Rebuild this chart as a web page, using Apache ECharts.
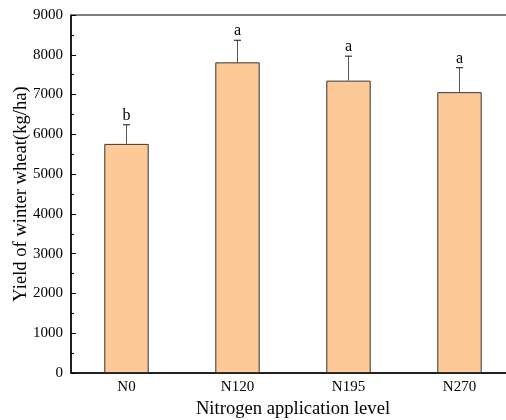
<!DOCTYPE html>
<html>
<head>
<meta charset="utf-8">
<script src="https://cdn.jsdelivr.net/npm/echarts@6/dist/echarts.min.js"></script>
<style>html,body{margin:0;padding:0;background:#fff;}#c{width:506px;height:420px;}</style>
</head>
<body>
<div id="c"></div>
<script>
var categories = ['N0', 'N120', 'N195', 'N270'];
var yieldMean = [5760, 7810, 7350, 7060];
var yieldErr = [480, 555, 615, 615];
var letters = ['b', 'a', 'a', 'a'];
var yTicks = { min: 0, max: 9000, interval: 1000 };

var FONT = '"Liberation Serif", "Times New Roman", serif';
var chart = echarts.init(document.getElementById('c'));

var errData = categories.map(function (c, i) { return [i, yieldMean[i], yieldErr[i]]; });

chart.setOption({
  animation: false,
  backgroundColor: '#fff',
  grid: { left: 71, top: 15, width: 444, height: 358, outerBoundsMode: 'none', containLabel: false, show: true, borderColor: '#000', borderWidth: 1, backgroundColor: 'transparent' },
  xAxis: [{
    type: 'category',
    data: categories,
    position: 'bottom',
    name: 'Nitrogen application level',
    nameLocation: 'middle',
    nameGap: 23,
    nameTextStyle: { fontFamily: FONT, fontSize: 18.6, color: '#000' },
    axisLine: { lineStyle: { color: '#000', width: 1.5 } },
    axisTick: { inside: true, alignWithLabel: true, length: 5, lineStyle: { color: '#000', width: 1 } },
    axisLabel: { fontFamily: FONT, fontSize: 15, color: '#000', margin: 7 },
    splitLine: { show: false }
  }, {
    type: 'category',
    data: categories,
    position: 'bottom',
    gridIndex: 0,
    axisLine: { show: false },
    axisTick: { inside: true, alignWithLabel: false, length: 3, lineStyle: { color: '#000', width: 1 } },
    axisLabel: { show: false },
    splitLine: { show: false }
  }],
  yAxis: {
    type: 'value',
    min: yTicks.min,
    max: yTicks.max,
    interval: yTicks.interval,
    name: 'Yield of winter wheat(kg/ha)',
    nameLocation: 'middle',
    nameGap: 40,
    nameMoveOverlap: false,
    nameTextStyle: { fontFamily: FONT, fontSize: 18.6, color: '#000' },
    axisLine: { show: true, lineStyle: { color: '#000', width: 1.5 } },
    axisTick: { show: true, inside: true, length: 5, lineStyle: { color: '#000' } },
    minorTick: { show: true, splitNumber: 2, length: 3, lineStyle: { color: '#000' } },
    axisLabel: { fontFamily: FONT, fontSize: 15, color: '#000', margin: 8, formatter: function (v) { return String(v); } },
    splitLine: { show: false }
  },
  series: [{
    type: 'bar',
    data: yieldMean,
    barWidth: '40%',
    itemStyle: { color: '#FCC997', borderColor: '#333', borderWidth: 1 },
    z: 2
  }, {
    type: 'custom',
    data: errData,
    z: 3,
    renderItem: function (params, api) {
      var i = api.value(0);
      var m = api.value(1);
      var e = api.value(2);
      var base = api.coord([i, m]);
      var top = api.coord([i, m + e]);
      var letter = letters[params.dataIndex];
      return {
        type: 'group',
        children: [
          { type: 'line', shape: { x1: top[0], y1: base[1], x2: top[0], y2: top[1] }, style: { stroke: '#555', lineWidth: 1 } },
          { type: 'line', shape: { x1: top[0] - 3.5, y1: top[1], x2: top[0] + 3.5, y2: top[1] }, style: { stroke: '#111', lineWidth: 1 } },
          { type: 'text', style: { text: letter, x: top[0], y: top[1] - 1, align: 'center', verticalAlign: 'bottom', font: '16px ' + FONT, fill: '#000' } }
        ]
      };
    }
  }]
});
</script>
</body>
</html>
